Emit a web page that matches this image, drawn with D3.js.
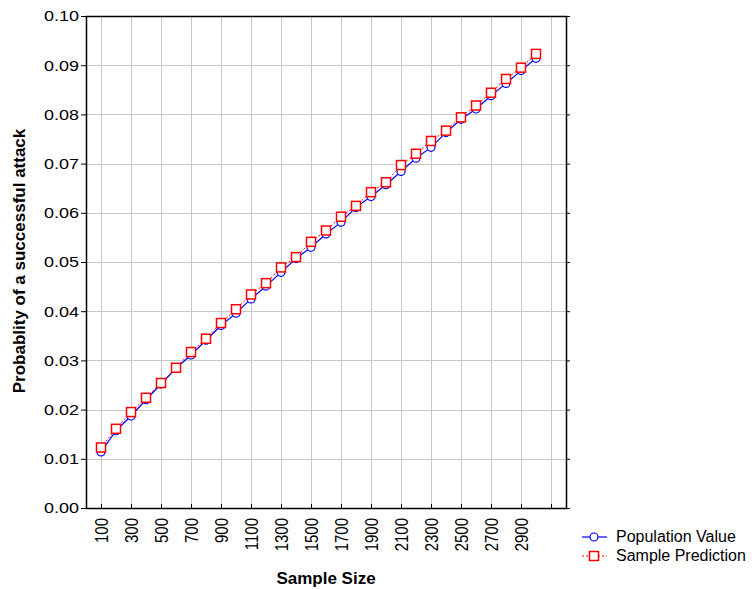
<!DOCTYPE html>
<html>
<head>
<meta charset="utf-8">
<script src="https://cdnjs.cloudflare.com/ajax/libs/d3/7.8.5/d3.min.js"></script>
<style>
  body { margin: 0; background: #fff; }
  text { font-family: "Liberation Sans", Arial, sans-serif; fill: #000; }
</style>
</head>
<body>
<div id="chart"></div>
<script>
// sample sizes and the two series
const sampleSizes = d3.range(100, 3001, 100)
const populationValue = [
  0.0114, 0.0157, 0.0187, 0.0220, 0.0252, 0.0284, 0.0311, 0.0341, 0.0371, 0.0396,
  0.0425, 0.0451, 0.0479, 0.0507, 0.0530, 0.0557, 0.0581, 0.0611, 0.0633, 0.0657,
  0.0684, 0.0711, 0.0733, 0.0763, 0.0790, 0.0811, 0.0838, 0.0863, 0.0889, 0.0914
]
const samplePrediction = [
  0.0123, 0.0161, 0.0195, 0.0224, 0.0254, 0.0285, 0.0317, 0.0344, 0.0376, 0.0404,
  0.0434, 0.0457, 0.0489, 0.0510, 0.0541, 0.0564, 0.0592, 0.0614, 0.0642, 0.0662,
  0.0697, 0.0720, 0.0746, 0.0767, 0.0794, 0.0818, 0.0844, 0.0872, 0.0895, 0.0923
]
const xTicks = d3.range(100, 3101, 200)
const yTicks = d3.range(0, 0.1001, 0.01)

const width = 752, height = 589
const plotLeft = 86, plotRight = 566, plotTop = 16, plotBottom = 508
const stretch = 1.2 // the original's labels are a bit wide

const svg = d3.select('#chart').append('svg')
  .attr('width', width).attr('height', height)

const x = d3.scaleLinear().domain([0, 3200]).range([plotLeft, plotRight])
const y = d3.scaleLinear().domain([0, 0.1]).range([plotBottom, plotTop])

// grid
const grid = svg.append('g').attr('stroke', '#c8c8c8').attr('stroke-width', 1)
grid.selectAll('.vx').data(xTicks).join('line')
  .attr('x1', d => Math.round(x(d)) + 0.5).attr('x2', d => Math.round(x(d)) + 0.5)
  .attr('y1', plotTop).attr('y2', plotBottom)
grid.selectAll('.hy').data(yTicks).join('line')
  .attr('x1', plotLeft).attr('x2', plotRight)
  .attr('y1', d => Math.round(y(d)) + 0.5).attr('y2', d => Math.round(y(d)) + 0.5)

// axes
const axisFont = g => g.selectAll('text')
  .style('font-family', '"Liberation Sans", Arial, sans-serif').style('font-size', '15px')

svg.append('g').attr('transform', `translate(${plotLeft},0)`)
  .call(d3.axisLeft(y).tickValues(yTicks).tickFormat(d3.format('.2f')).tickSize(5).tickSizeOuter(0))
  .call(axisFont)
  .call(g => g.select('.domain').remove())
  .call(g => g.selectAll('text')
    .attr('x', -7 / stretch)
    .attr('transform', `scale(${stretch},1)`))

svg.append('g').attr('transform', `translate(${plotRight},0)`)
  .call(d3.axisLeft(y).tickValues(yTicks).tickFormat('').tickSize(-4).tickSizeOuter(0))
  .call(g => g.select('.domain').remove())

svg.append('g').attr('transform', `translate(0,${plotBottom})`)
  .call(d3.axisBottom(x).tickValues(xTicks).tickFormat(d => d <= 2900 ? d : '').tickSize(-4).tickSizeOuter(0))
  .call(axisFont)
  .call(g => g.select('.domain').remove())
  .call(g => g.selectAll('text')
    .attr('transform', `rotate(-90) scale(1,${stretch})`)
    .attr('text-anchor', 'end')
    .attr('x', -10).attr('y', 0).attr('dy', '0.35em'))

// frame
svg.append('rect')
  .attr('x', plotLeft + 0.5).attr('y', plotTop + 0.5)
  .attr('width', plotRight - plotLeft).attr('height', plotBottom - plotTop)
  .attr('fill', 'none').attr('stroke', '#000').attr('stroke-width', 1.5)

// series
const popData = sampleSizes.map((s, i) => [s, populationValue[i]])
const predData = sampleSizes.map((s, i) => [s, samplePrediction[i]])
const line = d3.line().x(d => x(d[0])).y(d => y(d[1]))

svg.append('path').datum(popData)
  .attr('d', line).attr('fill', 'none').attr('stroke', '#0000ff').attr('stroke-width', 1.2)
svg.append('g').selectAll('circle').data(popData).join('circle')
  .attr('cx', d => x(d[0])).attr('cy', d => y(d[1])).attr('r', 4)
  .attr('fill', '#fff').attr('stroke', '#0000ff').attr('stroke-width', 1.2)

svg.append('path').datum(predData)
  .attr('d', line).attr('fill', 'none').attr('stroke', '#ff0000').attr('stroke-width', 1)
  .attr('stroke-dasharray', '2,2')
svg.append('g').selectAll('rect').data(predData).join('rect')
  .attr('x', d => x(d[0]) - 4.5).attr('y', d => y(d[1]) - 4.5)
  .attr('width', 9).attr('height', 9)
  .attr('fill', '#fff').attr('stroke', '#ff0000').attr('stroke-width', 1.5)

// titles
svg.append('text')
  .attr('transform', 'translate(25,261) rotate(-90)')
  .attr('text-anchor', 'middle')
  .style('font-size', '17px').style('font-weight', 'bold')
  .text('Probablity of a successful attack')

svg.append('text')
  .attr('x', 326).attr('y', 584)
  .attr('text-anchor', 'middle')
  .style('font-size', '17px').style('font-weight', 'bold')
  .text('Sample Size')

// legend
const legend = svg.append('g')
legend.append('line').attr('x1', 582).attr('x2', 607).attr('y1', 537).attr('y2', 537)
  .attr('stroke', '#0000ff').attr('stroke-width', 1.2)
legend.append('circle').attr('cx', 594).attr('cy', 537).attr('r', 4)
  .attr('fill', '#fff').attr('stroke', '#0000ff').attr('stroke-width', 1.2)
legend.append('text').attr('x', 616).attr('y', 542).style('font-size', '16px').text('Population Value')

legend.append('line').attr('x1', 582).attr('x2', 607).attr('y1', 556).attr('y2', 556)
  .attr('stroke', '#ff0000').attr('stroke-width', 1).attr('stroke-dasharray', '2,2')
legend.append('rect').attr('x', 589.5).attr('y', 551.5).attr('width', 9).attr('height', 9)
  .attr('fill', '#fff').attr('stroke', '#ff0000').attr('stroke-width', 1.5)
legend.append('text').attr('x', 616).attr('y', 561).style('font-size', '16px').text('Sample Prediction')
</script>
</body>
</html>
